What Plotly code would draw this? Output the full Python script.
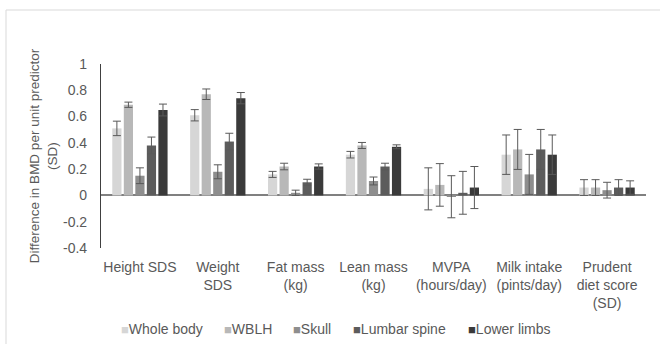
import plotly.graph_objects as go

categories = ["Height SDS", "Weight<br>SDS", "Fat mass<br>(kg)", "Lean mass<br>(kg)",
              "MVPA<br>(hours/day)", "Milk intake<br>(pints/day)", "Prudent<br>diet score<br>(SD)"]

series_names = ["Whole body", "WBLH", "Skull", "Lumbar spine", "Lower limbs"]
whole_body = [0.51, 0.61, 0.16, 0.31, 0.05, 0.31, 0.06]
wblh = [0.69, 0.77, 0.22, 0.38, 0.08, 0.35, 0.06]
skull = [0.15, 0.18, 0.02, 0.11, -0.01, 0.16, 0.04]
lumbar_spine = [0.38, 0.41, 0.10, 0.22, 0.02, 0.35, 0.06]
lower_limbs = [0.65, 0.74, 0.22, 0.37, 0.06, 0.31, 0.06]

err_whole_body = [0.055, 0.043, 0.023, 0.025, 0.16, 0.15, 0.06]
err_wblh = [0.02, 0.04, 0.025, 0.023, 0.162, 0.152, 0.06]
err_skull = [0.06, 0.053, 0.02, 0.03, 0.16, 0.152, 0.06]
err_lumbar_spine = [0.064, 0.063, 0.023, 0.025, 0.163, 0.152, 0.06]
err_lower_limbs = [0.045, 0.043, 0.02, 0.015, 0.16, 0.15, 0.051]

y_tick_vals = [1, 0.8, 0.6, 0.4, 0.2, 0, -0.2, -0.4]
y_tick_text = ["1", "0.8", "0.6", "0.4", "0.2", "0", "-0.2", "-0.4"]

values = [whole_body, wblh, skull, lumbar_spine, lower_limbs]
errors = [err_whole_body, err_wblh, err_skull, err_lumbar_spine, err_lower_limbs]
colors = ["#d6d6d6", "#b8b8b8", "#8e8e8e", "#5c5c5c", "#3a3a3a"]

fig = go.Figure()
for name, v, e, c in zip(series_names, values, errors, colors):
    fig.add_trace(go.Bar(
        x=categories, y=v, name=name, marker=dict(color=c, line=dict(width=0)),
        error_y=dict(type="data", array=e, visible=True, color="#595959",
                     thickness=1, width=4),
        showlegend=False,
    ))

# legend drawn as text items
legend_x_px = [119, 222, 291, 351, 466]
L, R, T, B = 101, 14, 64, 96
pw = 660 - L - R
ph = 344 - T - B
annotations = []
for name, c, px in zip(series_names, colors, legend_x_px):
    annotations.append(dict(
        xref="paper", yref="paper", x=(px - L) / pw, y=(248 - 329) / ph,
        xanchor="left", yanchor="middle", showarrow=False,
        text=f'<span style="color:{c};font-size:13px">■</span>{name}',
        font=dict(size=14, color="#595959"),
    ))

font = "Liberation Sans, Arial, sans-serif"
fig.update_layout(
    width=660, height=344,
    margin=dict(l=L, r=R, t=T, b=B),
    paper_bgcolor="white", plot_bgcolor="white",
    barmode="group", bargap=0.26, bargroupgap=0.2,
    font=dict(family=font, color="#595959", size=14),
    showlegend=False,
    xaxis=dict(showline=False, ticks="", showgrid=False, ticklabelstandoff=9,
               tickfont=dict(size=14, color="#595959")),
    yaxis=dict(range=[-0.4, 1], tickvals=y_tick_vals, ticktext=y_tick_text,
               showgrid=False, showline=True, linecolor="#404040", linewidth=1.2,
               ticks="", zeroline=True, zerolinecolor="#808080", zerolinewidth=1.5,
               ticklabelstandoff=10,
               tickfont=dict(size=14, color="#595959"),
               title=dict(text="Difference in BMD per unit predictor<br>(SD)",
                          font=dict(size=13.5, color="#595959"), standoff=2)),
    annotations=annotations,
    shapes=[dict(type="rect", xref="paper", yref="paper",
                 x0=(6 - L) / pw, x1=1.2, y0=-1.0, y1=(248 - 10) / ph,
                 line=dict(color="#d9d9d9", width=1), fillcolor="rgba(0,0,0,0)",
                 layer="below")],
)

fig.write_html("out.html", config={"displayModeBar": False},
               post_script="document.body.style.margin='0';document.body.style.padding='0';")
